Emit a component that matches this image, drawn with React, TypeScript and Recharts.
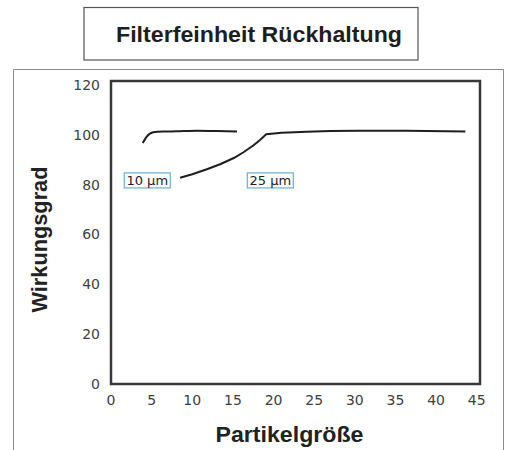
import React from 'react';
import {
  LineChart,
  Line,
  XAxis,
  YAxis,
  ReferenceArea,
  ReferenceDot,
  Label,
} from 'recharts';

// particle size (µm) vs. efficiency (%)
const sizes10 = [3.9, 4.4, 5.2, 6.5, 8, 10.6, 13, 15.5];
const eff10 = [96.7, 99.3, 101.0, 101.3, 101.4, 101.6, 101.5, 101.3];

const sizes25 = [8.5, 10, 11.8, 13.5, 15.1, 16.3, 17.5, 18.3, 19.1, 21, 24.1, 27, 30.3, 36.4, 43.6];
const eff25 = [82.8, 84.2, 86.2, 88.3, 90.7, 93.0, 95.7, 97.8, 100.2, 100.8, 101.2, 101.5, 101.6, 101.6, 101.3];

const tagNames = ['10 µm', '25 µm'];
const tagX = [4.46, 19.6];
const tagY = [81.7, 81.7];

const xTicks = [0, 5, 10, 15, 20, 25, 30, 35, 40, 45];
const yTicks = [0, 20, 40, 60, 80, 100, 120];

const X_MAX = 45.4;
const Y_MAX = 121.6;

const curve10 = sizes10.map((x, i) => ({ x, y: eff10[i] }));
const curve25 = sizes25.map((x, i) => ({ x, y: eff25[i] }));

const tickStyle = { fill: '#404040', fontSize: 14, fontFamily: 'DejaVu Sans' };
const titleFont = "'Liberation Sans', Arial, sans-serif";

function Tag({ cx, cy, text }: { cx?: number; cy?: number; text: string }) {
  if (cx == null || cy == null) return null;
  return (
    <g>
      <rect x={cx - 23} y={cy - 7.5} width={46} height={15} fill="#fff" stroke="#6aaed6" strokeWidth={1.2} />
      <text
        x={cx}
        y={cy + 5}
        textAnchor="middle"
        fontSize={13}
        fontFamily="DejaVu Sans"
        fill="#222"
      >
        {text}
      </text>
    </g>
  );
}

function XTitle({ viewBox }: any) {
  const cx = viewBox.x + viewBox.width / 2 - 6;
  return (
    <text
      x={cx}
      y={441.7}
      textAnchor="middle"
      fontSize={22}
      fontWeight="bold"
      fontFamily={titleFont}
      fill="#222"
      textLength={148}
      lengthAdjust="spacingAndGlyphs"
    >
      Partikelgröße
    </text>
  );
}

function YTitle({ viewBox }: any) {
  const cy = viewBox.y + viewBox.height / 2 + 7;
  return (
    <text
      x={47}
      y={cy}
      transform={`rotate(-90 47 ${cy})`}
      textAnchor="middle"
      fontSize={22}
      fontWeight="bold"
      fontFamily={titleFont}
      fill="#222"
      textLength={146}
      lengthAdjust="spacingAndGlyphs"
    >
      Wirkungsgrad
    </text>
  );
}

export default function App() {
  return (
    <div
      style={{
        position: 'absolute',
        left: 0,
        top: 0,
        width: 505,
        height: 450,
        overflow: 'hidden',
        background: '#fff',
      }}
    >
      <svg width={505} height={450} style={{ position: 'absolute', left: 0, top: 0 }}>
        <rect x={84} y={7.5} width={334} height={52.5} fill="none" stroke="#555" strokeWidth={1.2} />
        <text
          x={259}
          y={42.3}
          textAnchor="middle"
          fontSize={22}
          fontWeight="bold"
          fontFamily={titleFont}
          fill="#1e1e1e"
          textLength={286}
          lengthAdjust="spacingAndGlyphs"
        >
          Filterfeinheit Rückhaltung
        </text>
        <path d="M13.5 470 V69.5 H503.5 V470" fill="none" stroke="#8a8a8a" strokeWidth={1} />
      </svg>
      <div style={{ position: 'absolute', left: 0, top: 0 }}>
        <LineChart width={505} height={450} margin={{ top: 81, right: 25, bottom: 0, left: 0 }}>
          <XAxis
            type="number"
            dataKey="x"
            domain={[0, X_MAX]}
            ticks={xTicks}
            allowDataOverflow
            axisLine={false}
            tickLine={false}
            tickSize={0}
            tickMargin={11}
            height={66}
            tick={tickStyle}
          >
            <Label content={<XTitle />} />
          </XAxis>
          <YAxis
            type="number"
            dataKey="y"
            domain={[0, Y_MAX]}
            ticks={yTicks}
            allowDataOverflow
            axisLine={false}
            tickLine={false}
            tickSize={0}
            tickMargin={11}
            width={111}
            tick={tickStyle}
          >
            <Label content={<YTitle />} />
          </YAxis>
          <ReferenceArea
            x1={0}
            x2={X_MAX}
            y1={0}
            y2={Y_MAX}
            fill="none"
            stroke="#3a3836"
            strokeWidth={2.5}
            fillOpacity={0}
          />
          <Line
            data={curve10}
            dataKey="y"
            type="monotone"
            stroke="#1e1e1e"
            strokeWidth={2}
            dot={false}
            isAnimationActive={false}
          />
          <Line
            data={curve25}
            dataKey="y"
            type="linear"
            stroke="#1e1e1e"
            strokeWidth={2}
            dot={false}
            isAnimationActive={false}
          />
          {tagNames.map((name, i) => (
            <ReferenceDot
              key={name}
              x={tagX[i]}
              y={tagY[i]}
              r={0}
              shape={(p: any) => <Tag cx={p.cx} cy={p.cy} text={name} />}
            />
          ))}
        </LineChart>
      </div>
    </div>
  );
}
